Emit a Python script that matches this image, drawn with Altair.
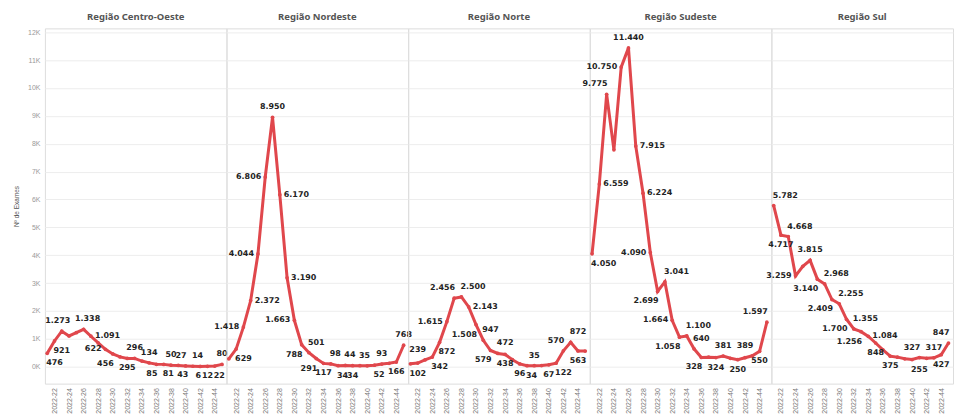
import altair as alt
import pandas as pd

# Exams per epidemiological week, by region of Brazil
REGIONS = ["Região Centro-Oeste", "Região Nordeste", "Região Norte", "Região Sudeste", "Região Sul"]
WEEKS = [21, 22, 23, 24, 25, 26, 27, 28, 29, 30, 31, 32, 33, 34, 35, 36, 37, 38, 39, 40, 41, 42, 43, 44, 45]
TICK_WEEKS = [22, 24, 26, 28, 30, 32, 34, 36, 38, 40, 42, 44]

CENTRO_OESTE = [476, 921, 1273, 1100, 1220, 1338, 1091, 850, 622, 456, 350, 295, 296,
                200, 134, 85, 81, 50, 43, 27, 14, 6, 12, 22, 80]
NORDESTE = [280, 629, 1418, 2372, 4044, 6806, 8950, 6170, 3190, 1663, 788, 501, 291,
            117, 98, 34, 44, 34, 35, 30, 52, 93, 120, 166, 768]
NORTE = [102, 130, 239, 342, 872, 1615, 2456, 2500, 2143, 1508, 947, 579, 472,
         438, 250, 96, 34, 35, 40, 67, 122, 570, 872, 563, 560]
SUDESTE = [4050, 6559, 9775, 7780, 10750, 11440, 7915, 6224, 4090, 2699, 3041, 1664, 1058,
           1100, 640, 328, 340, 324, 381, 300, 250, 320, 389, 550, 1597]
SUL = [5782, 4717, 4668, 3259, 3600, 3815, 3140, 2968, 2409, 2255, 1700, 1355, 1256,
       1084, 848, 600, 375, 340, 280, 255, 327, 300, 317, 427, 847]

# Where each value label sits around its point ("" = no label)
CO_LABEL_SIDE = ["br", "br", "a<", "", "", "a>", "r", "", "l", "bl", "", "b", "a",
                 "", "a", "bl", "br", "a", "br", "al", "ar", "bl", "b", "br", "a"]
NE_LABEL_SIDE = ["", "br", "l", "r", "l", "l", "a", "r", "r", "l", "bl", "ar", "bl",
                 "b", "ar", "br", "ar", "b", "ar", "", "br", "a", "", "b", "a"]
NO_LABEL_SIDE = ["br", "", "al", "br", "br", "l", "al", "ar", "r", "bl", "ar", "bl", "ar",
                 "b", "", "b", "br", "a", "", "b", "br", "al", "ar", "b", ""]
SE_LABEL_SIDE = ["br", "r", "al", "", "l", "a", "r", "r", "l", "bl", "ar", "l", "bl",
                 "ar", "ar", "bl", "", "b", "a", "", "b", "", "al", "b", "al"]
SUL_LABEL_SIDE = ["ar", "b", "ar", "l", "", "a", "bl", "ar", "bl", "ar", "bl", "ar", "bl",
                  "r", "b", "", "b", "", "", "br", "al", "", "a", "b", "al"]

series = [CENTRO_OESTE, NORDESTE, NORTE, SUDESTE, SUL]
sides = [CO_LABEL_SIDE, NE_LABEL_SIDE, NO_LABEL_SIDE, SE_LABEL_SIDE, SUL_LABEL_SIDE]

rows = []
for region, values, side in zip(REGIONS, series, sides):
    for w, v, s in zip(WEEKS, values, side):
        rows.append({"regiao": region, "semana": w, "exames": v, "lado": s})
df = pd.DataFrame(rows)

RED = "#e0474c"
LABEL_FONT = "DejaVu Sans"

x_enc = alt.X(
    "semana:Q",
    scale=alt.Scale(domain=[20.685, 45.62], nice=False, zero=False),
    axis=alt.Axis(
        values=TICK_WEEKS,
        labelExpr="'2022-' + datum.value",
        labelAngle=270,
        labelFontSize=7,
        labelFont="Liberation Sans",
        labelColor="#777",
        labelPadding=4,
        labelBound=False,
        grid=False,
        domain=False,
        ticks=False,
        title=None,
    ),
)
y_enc = alt.Y(
    "exames:Q",
    scale=alt.Scale(domain=[-610, 12140], nice=False, zero=False),
    axis=alt.Axis(
        values=list(range(0, 12001, 1000)),
        labelExpr="datum.value / 1000 + 'K'",
        labelFontSize=7,
        labelFont="Liberation Sans",
        labelColor="#999",
        labelPadding=5,
        grid=True,
        gridColor="#ededed",
        domain=False,
        ticks=False,
        title="Nº de Exames",
        titleFontSize=6.5,
        titleFont="Liberation Sans",
        titleFontWeight="normal",
        titleColor="#555",
        titlePadding=8,
    ),
)

line = alt.Chart().mark_line(color=RED, strokeWidth=3).encode(x=x_enc, y=y_enc)
dots = alt.Chart().mark_circle(color=RED, size=14, opacity=1).encode(x=x_enc, y=y_enc)

SIDE_STYLE = {
    "a": dict(align="center", dx=0, dy=-10),
    "a<": dict(align="center", dx=-4, dy=-10),
    "a>": dict(align="center", dx=4, dy=-10),
    "b": dict(align="center", dx=0, dy=10),
    "l": dict(align="right", dx=-4, dy=0),
    "r": dict(align="left", dx=4, dy=0),
    "al": dict(align="right", dx=1, dy=-10),
    "ar": dict(align="left", dx=-1, dy=-10),
    "bl": dict(align="right", dx=1, dy=10),
    "br": dict(align="left", dx=-1, dy=10),
}

labels = []
for code, style in SIDE_STYLE.items():
    labels.append(
        alt.Chart()
        .transform_filter(alt.datum.lado == code)
        .transform_calculate(rotulo="replace(format(datum.exames, ','), ',', '.')")
        .mark_text(baseline="middle", font=LABEL_FONT, fontSize=8, fontWeight="bold",
                   color="#222", **style)
        .encode(x=x_enc, y=y_enc, text="rotulo:N")
    )

panel = alt.layer(line, dots, *labels, data=df).properties(width=182, height=356)

chart = (
    panel.facet(
        column=alt.Column(
            "regiao:N",
            sort=REGIONS,
            header=alt.Header(
                title=None,
                labelFontSize=9.5,
                labelFont="Noto Sans",
                labelFontWeight="bold",
                labelColor="#555",
                labelPadding=7,
            ),
        ),
        spacing=0,
        bounds="flush",
    )
    .properties(padding={"left": 13, "top": 11, "right": 0, "bottom": 0})
    .configure_view(stroke="#d6d6d6", strokeWidth=1)
    .configure(background="white")
)

chart.save("out.html", embed_options={"renderer": "svg", "actions": False})
